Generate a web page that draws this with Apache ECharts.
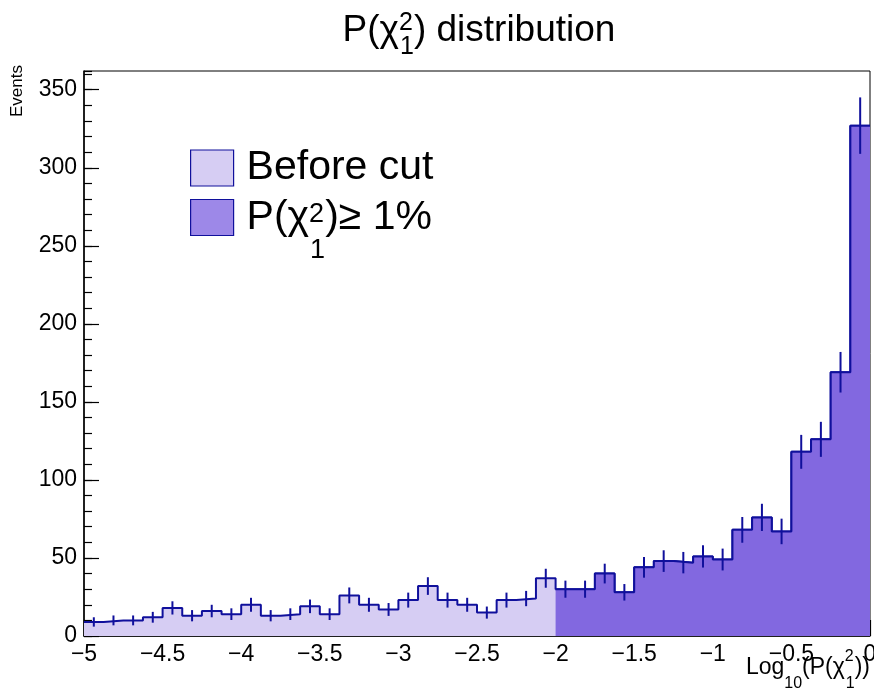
<!DOCTYPE html>
<html><head><meta charset="utf-8">
<script src="https://cdn.jsdelivr.net/npm/echarts@6/dist/echarts.min.js"></script>
<style>html,body{margin:0;padding:0;background:#fff}#c{width:874px;height:692px}</style>
</head><body><div id="c"></div>
<script>
// ---- data ----
const binLow = -5, binWidth = 0.125;
const beforeCut = [9,10,10,12,18,13,16,14,20,13,14,19,14,26,20,17,23,32,23,20,15,23,24,37,
                   30,30,40,28,44,48,47,51,49,68,76,67,118,126,169,327];
const afterLow = -2;
const afterCut = [30,30,40,28,44,48,47,51,49,68,76,67,118,126,169,327];
const xTickValues = [-5,-4.5,-4,-3.5,-3,-2.5,-2,-1.5,-1,-0.5,0];
const yTickValues = [0,50,100,150,200,250,300,350];
const seriesNames = ['Before cut', 'After cut'];

// ---- style ----
const FONT = '"Liberation Sans", Arial, Helvetica, sans-serif';
const NAVY = '#10109c';
const LIGHT = '#d6cdf3';
const DARK = '#8268e0';
const DARK_KEY = '#9d88e8';

function stepData(low, values) {
  const pts = values.map((v, i) => [low + i * binWidth, v]);
  pts.push([low + values.length * binWidth, values[values.length - 1]]);
  return pts;
}
const errData = beforeCut.map((v, i) => [binLow + (i + 0.5) * binWidth, v, Math.sqrt(v)]);

function rs(fs, L, pad) {
  return {fontSize: fs, lineHeight: L, fontFamily: FONT, fontWeight: 'normal', color: '#000', align: 'left',
          verticalAlign: 'top', padding: [pad, 0, 0, 0]};
}
function fmtX(v) {
  if (Math.abs(v) < 1e-9) return '0';
  return (v < 0 ? '\u2212' : '') + Math.abs(v);
}

const chart = echarts.init(document.getElementById('c'));
const option = {
  animation: false,
  backgroundColor: '#fff',
  textStyle: {fontFamily: FONT},
  title: {
    text: '{n|P(\u03c7}{sup|2}{sub|1}{n|) distribution}',
    left: 474, top: 0, textAlign: 'center',
    textStyle: {fontWeight: 'normal',
      rich: {n: rs(37, 50, 7), sup: Object.assign(rs(25, 50, 6), {width: 1}), sub: rs(25, 50, 30)}}
  },
  legend: {
    orient: 'vertical', left: 185, top: 141, itemWidth: 43, itemHeight: 36, itemGap: 7,
    selectedMode: false,
    data: [
      {name: seriesNames[0], icon: 'rect', itemStyle: {color: LIGHT, borderColor: NAVY, borderWidth: 1.2}},
      {name: seriesNames[1], icon: 'rect', itemStyle: {color: DARK_KEY, borderColor: NAVY, borderWidth: 1.2}}
    ],
    formatter: name => name === seriesNames[0] ? '{n|Before cut}' : '{n|P(\u03c7}{sup|2}{sub|1}{n|)\u2265 1%}',
    textStyle: {padding: [0, 0, 0, 8],
      rich: {n: rs(41, 44, 1.5), sup: Object.assign(rs(27, 44, 6), {width: 1}), sub: rs(27, 44, 42)}}
  },
  grid: {left: 84, right: 4, top: 71, bottom: 56, show: true, borderColor: '#000', borderWidth: 1,
         containLabel: false, outerBoundsMode: 'none'},
  xAxis: {
    type: 'value', min: xTickValues[0], max: xTickValues[xTickValues.length - 1], interval: 0.5,
    axisLine: {onZero: false, lineStyle: {color: '#000', width: 1.5}},
    axisTick: {inside: true, length: 16, lineStyle: {color: '#000', width: 1.2}},
    minorTick: {show: true, splitNumber: 5, length: 8, lineStyle: {color: '#000', width: 1.2}},
    axisLabel: {formatter: fmtX, fontSize: 23, color: '#000', margin: 7, fontFamily: FONT},
    splitLine: {show: false}
  },
  yAxis: [
    {
      type: 'value', min: yTickValues[0], max: 362, interval: 50, position: 'left',
      axisLine: {show: true, onZero: false, lineStyle: {color: '#000', width: 1.5}},
      axisTick: {inside: true, length: 15, lineStyle: {color: '#000', width: 1.2}},
      axisLabel: {showMaxLabel: false, fontSize: 23, color: '#000', margin: 7, fontFamily: FONT},
      splitLine: {show: false}
    },
    {
      type: 'value', min: yTickValues[0], max: 362, interval: 10, position: 'left',
      axisLine: {show: false, onZero: false},
      axisTick: {inside: true, length: 8, lineStyle: {color: '#000', width: 1.2}},
      axisLabel: {show: false}, splitLine: {show: false}
    }
  ],
  graphic: [
    {
      type: 'text', x: 17, y: 65, rotation: Math.PI / 2,
      style: {text: 'Events', fontSize: 17, fontFamily: FONT, fill: '#000', align: 'right', verticalAlign: 'middle'}
    },
    {
      type: 'text', x: 870, y: 648,
      style: {text: '{n|Log}{sub|10}{n|(P(\u03c7}{sup|2}{sub|1}{n|))}', align: 'right', verticalAlign: 'top',
        fontFamily: FONT, fill: '#000',
        rich: {n: rs(23, 40, 8.5), sup: Object.assign(rs(16, 40, 0.5), {width: 1}), sub: rs(16, 40, 28)}}
    }
  ],
  series: [
    {
      name: seriesNames[0], type: 'line', step: 'end', data: stepData(binLow, beforeCut),
      symbol: 'none', itemStyle: {color: LIGHT},
      lineStyle: {color: NAVY, width: 2}, areaStyle: {color: LIGHT, opacity: 1}, z: 2
    },
    {
      name: seriesNames[1], type: 'line', step: 'end', data: stepData(afterLow, afterCut),
      symbol: 'none', itemStyle: {color: DARK_KEY},
      lineStyle: {color: NAVY, width: 2}, areaStyle: {color: DARK, opacity: 1}, z: 3
    },
    {
      name: 'errors', type: 'custom', data: errData, z: 4,
      renderItem: (params, api) => {
        const x = api.value(0), v = api.value(1), e = api.value(2);
        const p1 = api.coord([x, v - e]), p2 = api.coord([x, v + e]);
        return {type: 'line', shape: {x1: p1[0], y1: p1[1], x2: p2[0], y2: p2[1]},
                style: {stroke: NAVY, lineWidth: 2}};
      }
    }
  ]
};
chart.setOption(option);
</script></body></html>
